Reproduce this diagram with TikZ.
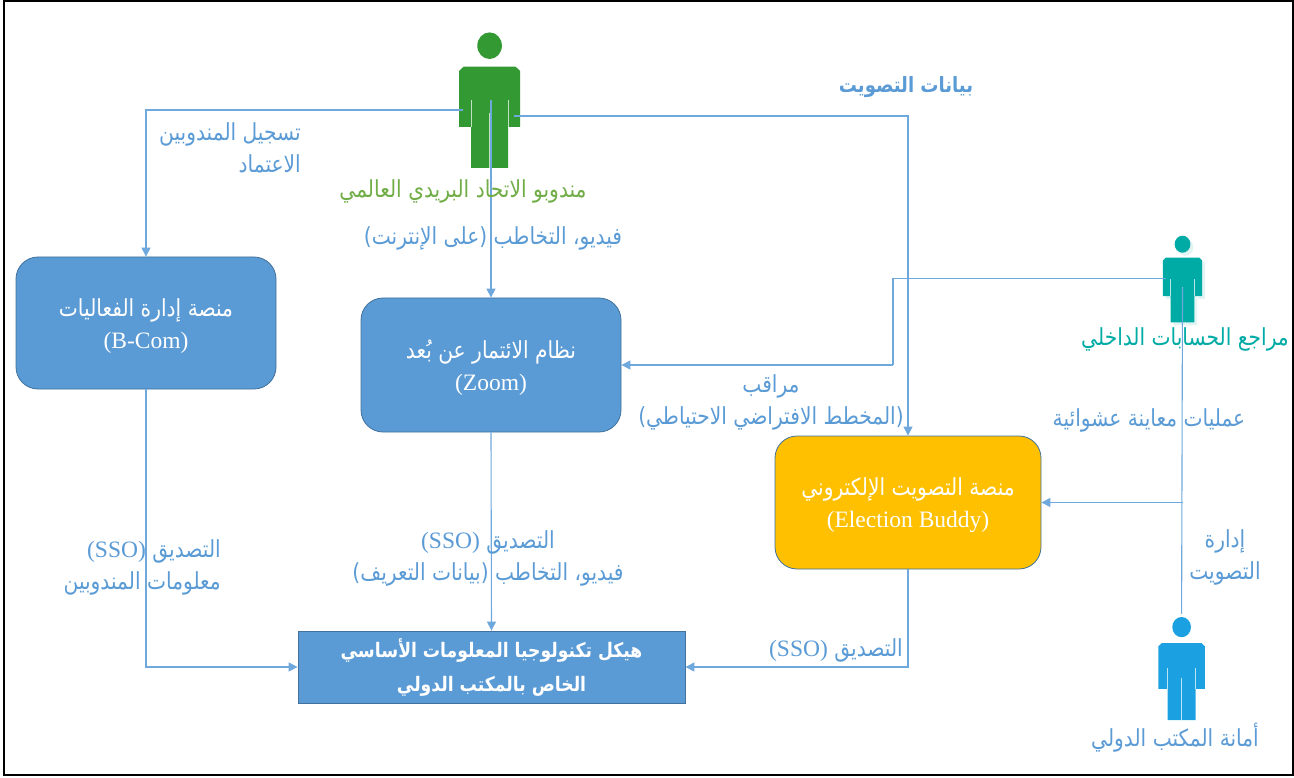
\documentclass[tikz,border=0pt]{standalone}
\usepackage{fontspec}
\setmainfont{Liberation Serif}
\newfontfamily\arabicfont[Script=Arabic,FakeStretch=0.86]{DejaVu Sans}
\TeXXeTstate=1
\usetikzlibrary{arrows.meta,positioning,calc}
\definecolor{boxblue}{HTML}{5B9BD5}
\definecolor{boxedge}{HTML}{41719C}
\definecolor{boxgold}{HTML}{FFC000}
\definecolor{linkblue}{HTML}{6FA8DC}
\definecolor{figgreen}{HTML}{339933}
\definecolor{figteal}{HTML}{00ABA5}
\definecolor{figblue}{HTML}{1BA1E2}
\definecolor{figshade}{HTML}{E2F4F3}
\definecolor{txtgreen}{HTML}{70AD47}
\newcommand{\ar}[1]{{\arabicfont\beginR #1\endR}}
\newcommand{\sso}{\beginL{\normalfont (SSO)}\endL}
\tikzset{
  platform/.style = {draw=boxedge, fill=boxblue, rounded corners=22pt, text=white, align=center, line width=0.8pt, inner sep=0pt, text height=56pt, font=\fontsize{23.5}{32}\selectfont},
  itbox/.style = {draw=boxedge, fill=boxblue, text=white, align=center, line width=0.8pt, inner sep=0pt, font=\fontsize{20}{34}\selectfont\bfseries},
  link/.style = {draw=linkblue, line width=1.1pt, -{Triangle[length=9pt,width=9pt]}},
  plainlink/.style = {draw=linkblue, line width=1.1pt},
  note/.style = {text=boxblue, align=center, inner sep=0pt, font=\fontsize{23.5}{32}\selectfont},
  person/.pic = {
    \fill[#1] (0,13.3) ellipse[x radius=12.3, y radius=13.3];
    \fill[#1] (-30.5,38.5) -- (-26,34.3) -- (26,34.3) -- (30.5,38.5) -- (30.5,94.6) -- (18.5,94.6) -- (18.5,135.6)
      -- (-18.5,135.6) -- (-18.5,94.6) -- (-30.5,94.6) -- cycle;
    \draw[white!70!#1, line width=0.7pt] (-18.5,67.6) -- (-18.5,94.6) (18.5,67.6) -- (18.5,94.6) (0,80.6) -- (0,135.6);
    \coordinate (-left) at (-26.5,77.6);
    \coordinate (-arm) at (-26.5,66.6);
    \coordinate (-right) at (24.5,83.6);
    \coordinate (-mid) at (1.5,67.6);
    \coordinate (-slit) at (0,80.6);
    \coordinate (-top) at (0,-4);
  },
}
\begin{document}
\begin{tikzpicture}[x=1pt,y=-1pt]
  \useasboundingbox (0,0) rectangle (1294,778);
  \draw[black, line width=2pt] (4,1.5) rectangle (1293,775);

  % platforms
  \node[platform, minimum width=260pt, minimum height=132pt] (bcom) at (146,323) {\ar{منصة إدارة الفعاليات}\\(B-Com)};
  \node[platform, minimum width=260pt, minimum height=134pt] (zoom) at (491,365) {\ar{نظام الائتمار عن بُعد}\\(Zoom)};
  \node[platform, fill=boxgold, minimum width=266pt, minimum height=133pt] (vote) at (908,502.5) {\ar{منصة التصويت الإلكتروني}\\(Election Buddy)};
  \node[itbox, minimum width=387pt, minimum height=72pt] (itbase) at (491.5,667) {\ar{هيكل تكنولوجيا المعلومات الأساسي}\\\ar{الخاص بالمكتب الدولي}};

  % people
  \pic (delegate) at (489.6,32.4) {person=figgreen};
  \pic[scale=.64] (shade) at (1185.5,238.7) {person=figshade};
  \pic[scale=.64] (auditor) at (1182.5,235.7) {person=figteal};
  \pic[scale=.76] (bureau) at (1181.6,617) {person=figblue};

  % connectors
  \coordinate (zoombend) at (893,365);
  \coordinate (tap) at (vote.east -| auditor-slit);
  \draw[link] (delegate-left) -| (bcom.north);
  \draw[link] (zoom.north |- delegate-mid) -- (zoom.north);
  \draw[link] (delegate-right) -| (vote.north);
  \draw[plainlink] (auditor-arm) -| (zoombend);
  \draw[link] (zoombend) -- (zoom.east);
  \draw[plainlink] (auditor-slit) -- (bureau-top);
  \draw[link] (tap) -- (vote.east);
  \draw[link] (bcom.south) |- (itbase.west);
  \draw[link] (zoom.south) -- (itbase.north);
  \draw[link] (vote.south) |- (itbase.east);

  % labels
  \node[note, align=right, anchor=north east] (regnote) at (301,122) {\ar{تسجيل المندوبين}\\\ar{الاعتماد}};
  \node[note, text=txtgreen] (delegatename) at (463,191) {\ar{مندوبو الاتحاد البريدي العالمي}};
  \node[note] (onlinenote) at (493,238) {\ar{فيديو، التخاطب (على الإنترنت)}};
  \node[note, font=\fontsize{21}{32}\selectfont\bfseries] (datanote) at (906,87) {\ar{بيانات التصويت}};
  \node[note, text=figteal] (auditorname) at (1185,339) {\ar{مراجع الحسابات الداخلي}};
  \node[note] (observernote) at (771,402) {\ar{مراقب}\\\ar{(المخطط الافتراضي الاحتياطي)}};
  \node[note] (samplenote) at (1149,420) {\ar{عمليات معاينة عشوائية}};
  \node[note] (admnote) at (1225,557) {\ar{إدارة}\\\ar{التصويت}};
  \node[note] (bureauname) at (1175,738) {\ar{أمانة المكتب الدولي}};
  \node[note] (ssonote) at (836,650) {\ar{التصديق \sso}};
  \node[note, align=right, anchor=east] (infonote) at (221,567) {\ar{التصديق \sso}\\\ar{معلومات المندوبين}};
  \node[note] (profilenote) at (488,558) {\ar{التصديق \sso}\\\ar{فيديو، التخاطب (بيانات التعريف)}};
\end{tikzpicture}
\end{document}
